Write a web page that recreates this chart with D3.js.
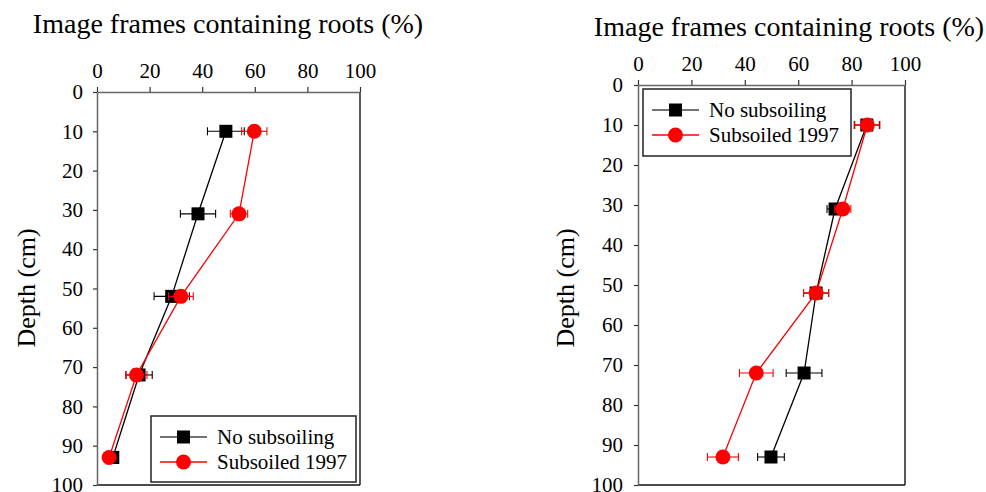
<!DOCTYPE html>
<html>
<head>
<meta charset="utf-8">
<script src="https://cdn.jsdelivr.net/npm/d3@7"></script>
<style>
  body { margin: 0; background: #fff; }
  text { font-family: "Liberation Serif", "Times New Roman", serif; }
</style>
</head>
<body>
<svg width="986" height="492"></svg>
<script>
// depths (cm)
var depthsA = [10, 31, 52, 72, 93];
var depthsB = [10, 31, 52, 72, 93];

// left panel
var noSubA = [49, 38.4, 28.4, 16, 6];
var noSubErrA = [7, 6.7, 6.7, 5, 1.5];
var subA = [59.8, 54, 31.9, 15, 4.6];
var subErrA = [4.8, 3.3, 4.7, 4, 1.2];

// right panel
var noSubB = [85.7, 73.8, 66.7, 62.2, 49.8];
var noSubErrB = [4.7, 3, 4.7, 6.7, 5];
var subB = [85.9, 76.7, 66.7, 44.3, 31.8];
var subErrB = [4.7, 3, 4.7, 6.3, 5.8];

var xTicks = [0, 20, 40, 60, 80, 100];
var yTicks = [0, 10, 20, 30, 40, 50, 60, 70, 80, 90, 100];
var seriesNames = ["No subsoiling", "Subsoiled 1997"];
var titleText = "Image frames containing roots (%)";
var yTitle = "Depth (cm)";

var svg = d3.select("svg");

function panel(opt) {
  var x = d3.scaleLinear().domain([0, 100]).range([opt.left, opt.right]);
  var y = d3.scaleLinear().domain([0, 100]).range([opt.top, opt.bottom]);
  var g = svg.append("g");

  // frame
  g.append("line").attr("x1", opt.right).attr("x2", opt.right)
    .attr("y1", opt.top).attr("y2", opt.bottom).attr("stroke", "#222").attr("stroke-width", 1.5);
  g.append("line").attr("x1", opt.left).attr("x2", opt.right)
    .attr("y1", opt.bottom).attr("y2", opt.bottom).attr("stroke", "#111").attr("stroke-width", 1.5);

  var xa = g.append("g").attr("transform", "translate(0," + opt.top + ")")
    .call(d3.axisTop(x).tickValues(xTicks).tickSize(5).tickSizeOuter(0).tickPadding(9));
  xa.select(".domain").attr("stroke", "#666").attr("stroke-width", 1.5);
  xa.selectAll(".tick line").attr("stroke", "#333").attr("stroke-width", 1.2);
  xa.selectAll("text").attr("font-size", 21).attr("fill", "#000");

  var ya = g.append("g").attr("transform", "translate(" + opt.left + ",0)")
    .call(d3.axisLeft(y).tickValues(yTicks).tickSize(4).tickSizeOuter(0).tickPadding(opt.ypad));
  ya.select(".domain").attr("stroke", "#666").attr("stroke-width", 1.5);
  ya.selectAll(".tick line").attr("stroke", "#333").attr("stroke-width", 1.2);
  ya.selectAll("text").attr("font-size", 21).attr("fill", "#000");

  g.append("text").attr("x", opt.titleX).attr("y", opt.titleY)
    .attr("text-anchor", "middle").attr("font-size", 28).text(titleText);
  g.append("text").attr("transform", "translate(" + opt.ytX + "," + opt.ytY + ") rotate(-90)")
    .attr("text-anchor", "middle").attr("font-size", 26).text(yTitle);

  var series = [
    {vals: opt.black, errs: opt.blackErr, color: "#000", shape: "square"},
    {vals: opt.red, errs: opt.redErr, color: "#ff0000", shape: "circle"}
  ];

  series.forEach(function(s) {
    var pts = s.vals.map(function(v, i) { return {v: v, e: s.errs[i], d: opt.depths[i]}; });
    var line = d3.line().x(function(d) { return x(d.v); }).y(function(d) { return y(d.d); });
    g.append("path").datum(pts).attr("d", line).attr("fill", "none")
      .attr("stroke", s.color).attr("stroke-width", 1.3);
    var eb = g.selectAll(null).data(pts).enter().append("g").attr("stroke", s.color).attr("stroke-width", 1.1);
    eb.append("line").attr("x1", function(d) { return x(d.v - d.e); }).attr("x2", function(d) { return x(d.v + d.e); })
      .attr("y1", function(d) { return y(d.d); }).attr("y2", function(d) { return y(d.d); });
    eb.append("line").attr("x1", function(d) { return x(d.v - d.e); }).attr("x2", function(d) { return x(d.v - d.e); })
      .attr("y1", function(d) { return y(d.d) - 4; }).attr("y2", function(d) { return y(d.d) + 4; });
    eb.append("line").attr("x1", function(d) { return x(d.v + d.e); }).attr("x2", function(d) { return x(d.v + d.e); })
      .attr("y1", function(d) { return y(d.d) - 4; }).attr("y2", function(d) { return y(d.d) + 4; });
    if (s.shape == "square") {
      g.selectAll(null).data(pts).enter().append("rect")
        .attr("x", function(d) { return x(d.v) - 6.5; }).attr("y", function(d) { return y(d.d) - 6.5; })
        .attr("width", 13).attr("height", 13).attr("fill", s.color);
    } else {
      g.selectAll(null).data(pts).enter().append("circle")
        .attr("cx", function(d) { return x(d.v); }).attr("cy", function(d) { return y(d.d); })
        .attr("r", 7.5).attr("fill", s.color);
    }
  });

  // legend
  var L = opt.legend;
  g.append("rect").attr("x", L.x).attr("y", L.y).attr("width", L.w).attr("height", L.h)
    .attr("fill", "#fff").attr("stroke", "#222").attr("stroke-width", 1.5);
  seriesNames.forEach(function(name, i) {
    var cy = L.y + 21 + i * 25;
    var col = i == 0 ? "#444" : "#ff0000";
    g.append("line").attr("x1", L.x + 9).attr("x2", L.x + 56).attr("y1", cy).attr("y2", cy)
      .attr("stroke", col).attr("stroke-width", 1.3);
    if (i == 0) {
      g.append("rect").attr("x", L.x + 26).attr("y", cy - 6.5).attr("width", 13).attr("height", 13).attr("fill", "#000");
    } else {
      g.append("circle").attr("cx", L.x + 32.5).attr("cy", cy).attr("r", 7.5).attr("fill", "#ff0000");
    }
    g.append("text").attr("x", L.x + 66).attr("y", cy + 7).attr("font-size", 21).text(name);
  });
}

panel({
  left: 97, right: 360, top: 92, bottom: 485, ypad: 10,
  depths: depthsA, black: noSubA, blackErr: noSubErrA, red: subA, redErr: subErrA,
  titleX: 228, titleY: 33, ytX: 35, ytY: 288,
  legend: {x: 151, y: 416, w: 205, h: 66}
});

panel({
  left: 638, right: 905, top: 85, bottom: 485, ypad: 11,
  depths: depthsB, black: noSubB, blackErr: noSubErrB, red: subB, redErr: subErrB,
  titleX: 789, titleY: 36, ytX: 574, ytY: 288,
  legend: {x: 643, y: 89, w: 208, h: 67}
});
</script>
</body>
</html>
